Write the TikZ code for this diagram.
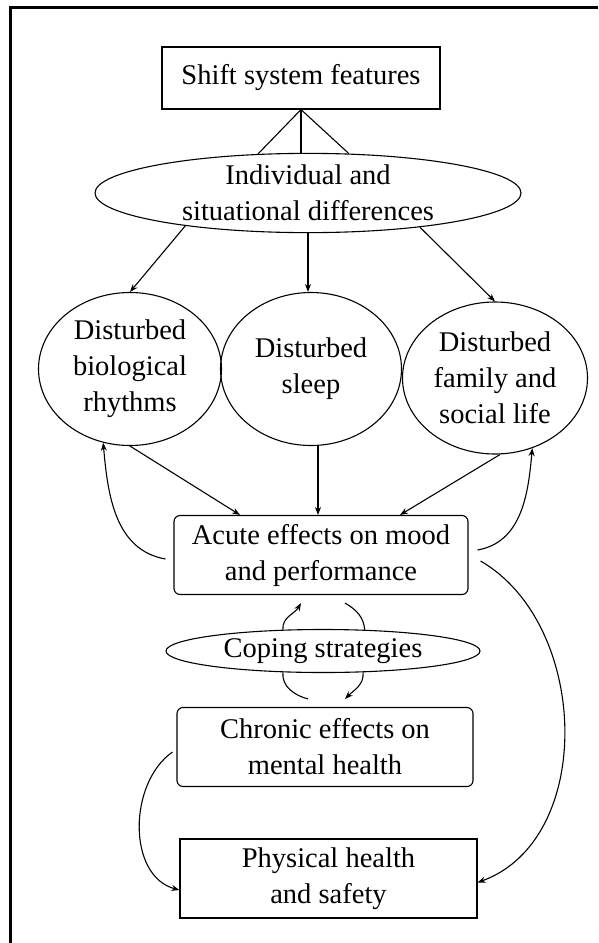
\documentclass[tikz,border=0pt]{standalone}
\usepackage{fontspec}
\setmainfont{Liberation Serif}
\usetikzlibrary{shapes.geometric,arrows.meta,calc}
\begin{document}
\begin{tikzpicture}[x=1pt,y=-1pt,
  every node/.style={font=\fontsize{28.5}{36}\selectfont, align=center, inner sep=0pt},
  sq/.style={draw, line width=1.1pt},
  rbox/.style={draw, line width=1.1pt, rounded corners=6pt},
  ell/.style={draw, ellipse, line width=1.1pt, inner sep=0pt},
  arr/.style={line width=1.1pt, -{Stealth[length=8pt,width=6pt]}},
  ln/.style={line width=1.1pt}]
\useasboundingbox (0,0) rectangle (598,943);
\draw[line width=3pt] (10,943) -- (10,7.5) -- (598,7.5);

\node[sq, minimum width=278pt, minimum height=62pt] (shift) at (301,78) {Shift system features};
\node[ell, minimum width=426pt, minimum height=78pt] (ind) at (308,193) {Individual and\\situational differences};
\node[ell, minimum width=183pt, minimum height=153pt] (c1) at (130,369) {Disturbed\\biological\\rhythms};
\node[ell, minimum width=181pt, minimum height=153pt] (c2) at (311,369) {Disturbed\\sleep};
\node[ell, minimum width=185pt, minimum height=152pt] (c3) at (495,378) {Disturbed\\family and\\social life};
\node[rbox, minimum width=294pt, minimum height=79pt] (acute) at (321,555) {Acute effects on mood\\and performance};
\node[ell, minimum width=314pt, minimum height=43pt] (cop) at (323,651) {Coping strategies};
\node[rbox, minimum width=296pt, minimum height=79pt] (chron) at (325,747) {Chronic effects on\\mental health};
\node[sq, minimum width=297pt, minimum height=79pt] (phys) at (328.5,878.5) {Physical health\\and safety};

\draw[ln] (shift.south) -- (ind.142);
\draw[ln] (shift.south) -- (shift.south |- ind.north);
\draw[ln] (shift.south) -- (ind.44);

\draw[arr] (ind.195) -- (c1.north);
\draw[arr] (ind.south) -- (ind.south |- c2.north);
\draw[arr] (ind.343) -- (c3.north);

\draw[arr] (c1.south) -- ([xshift=-81pt]acute.north);
\draw[arr] ([xshift=7pt]c2.south) -- ([xshift=-3pt]acute.north);
\draw[arr] ([xshift=5pt]c3.south) -- ([xshift=79pt]acute.north);

\draw[arr] ([xshift=-8pt,yshift=-4pt]acute.west) to[out=170,in=-85] (c1.250);
\draw[arr] ([xshift=9pt,yshift=5pt]acute.east) to[out=10,in=-95] (c3.298);
\draw[arr] ([xshift=12pt,yshift=-6pt]acute.east) to[out=-30,in=20] ([yshift=-4pt]phys.east);
\draw[arr] ([xshift=-4pt,yshift=-5pt]chron.west) to[out=215,in=165] ([yshift=-11.5pt]phys.west);

\draw[arr] (cop.152) to[out=95,in=240] ([xshift=-20pt,yshift=-8pt]acute.south);
\draw[ln] ([xshift=24pt,yshift=-8pt]acute.south) to[out=-30,in=95] (cop.27);
\draw[ln] (cop.208) to[out=-95,in=165] ([xshift=-17pt,yshift=8pt]chron.north);
\draw[arr] (cop.332) to[out=-85,in=45] ([xshift=20pt,yshift=8pt]chron.north);
\end{tikzpicture}
\end{document}
